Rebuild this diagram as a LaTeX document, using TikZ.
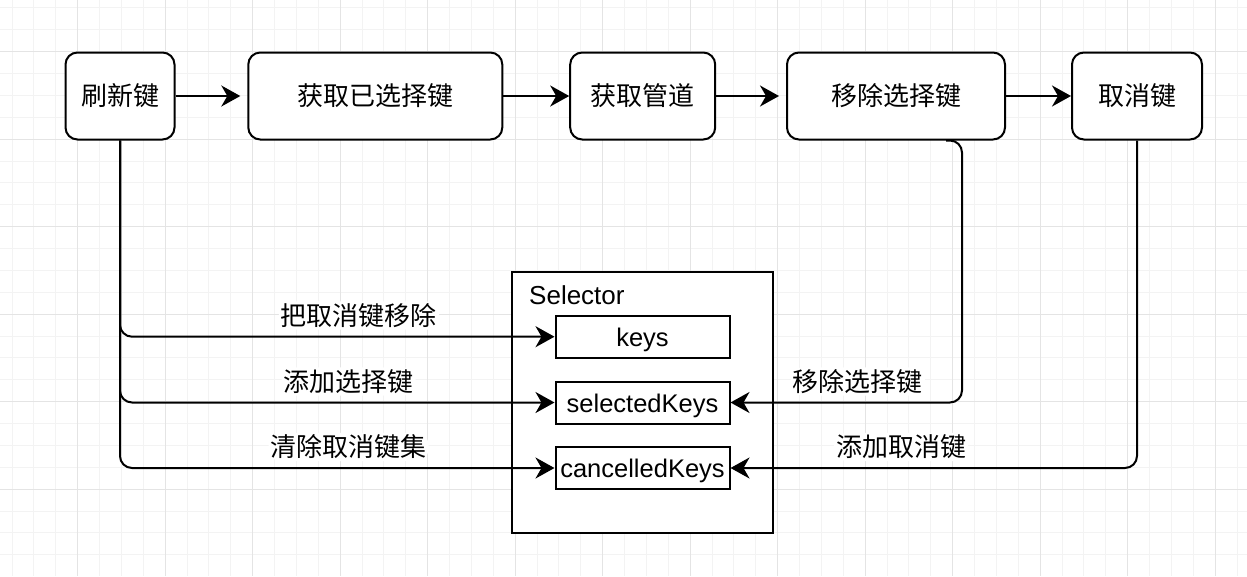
\documentclass[tikz,border=0pt]{standalone}
\usepackage{fontspec}
\setmainfont{Liberation Sans}
\newfontfamily\cjk{Noto Sans CJK SC}
\usepackage{tikz}
\usetikzlibrary{arrows.meta}
\definecolor{gridminor}{HTML}{F3F3F3}
\definecolor{gridmajor}{HTML}{E4E4E4}

\begin{document}
\begin{tikzpicture}[x=1pt,y=-1pt]
\tikzset{>={Stealth[length=19pt,width=21pt,inset=6pt]}}
\tikzstyle{stage} =[draw, line width=2pt, rounded corners=12pt, fill=white, minimum height=87pt, inner sep=0pt, font=\cjk\fontsize{26}{30}\selectfont]
\tikzstyle{field} =[draw, line width=2pt, fill=white, minimum width=174pt, minimum height=42pt, inner sep=0pt, text height=19pt, text depth=0pt, font=\fontsize{25.5}{29}\selectfont]
\tikzstyle{lbl} =[fill=white, inner sep=2pt, font=\cjk\fontsize{26}{30}\selectfont]
\tikzstyle{flow} =[->, line width=2pt]
\tikzstyle{link} =[->, line width=2pt, rounded corners=12pt]

\useasboundingbox (0,0) rectangle (1247,576);
% grid
\fill[white] (0,0) rectangle (1247,576);
\foreach \i in {0,...,56} \draw[gridminor, line width=1pt] ({12.07+21.875*\i},0) -- ({12.07+21.875*\i},576);
\foreach \j in {0,...,25} \draw[gridminor, line width=1pt] (0,{7.95+21.875*\j}) -- (1247,{7.95+21.875*\j});
\foreach \i in {0,...,13} \draw[gridmajor, line width=1pt] ({77.7+87.5*\i},0) -- ({77.7+87.5*\i},576);
\foreach \j in {0,...,5} \draw[gridmajor, line width=1pt] (0,{51.7+87.5*\j}) -- (1247,{51.7+87.5*\j});

% top row
\node[stage, minimum width=109pt](refresh) at (120,96){刷新键};
\node[stage, minimum width=254pt](fetch) at (375.3,96){获取已选择键};
\node[stage, minimum width=145pt](chan) at (642.7,96){获取管道};
\node[stage, minimum width=218pt](remove) at (896,96){移除选择键};
\node[stage, minimum width=130pt](cancel) at (1137,96){取消键};

\draw [flow, shorten >=7pt] (refresh) to (fetch);
\draw [flow] (fetch) to (chan);
\draw [flow, shorten >=7pt] (chan) to (remove);
\draw [flow] (remove) to (cancel);

% selector
\node[draw, line width=2pt, fill=white, minimum width=261pt, minimum height=261pt](sel) at (642.5,402.5){};
\node[anchor=west, inner sep=0pt, font=\fontsize{26}{30}\selectfont](seltitle) at (529,295){Selector};
\node[field](keys) at (642.5,336.7){keys};
\node[field](sk) at (642.5,402.5){selectedKeys};
\node[field](ck) at (642.5,468){cancelledKeys};

\coordinate (turn) at (962,402.5);
\draw [link] (refresh.south) |- node[lbl, pos=0.775, above=6pt]{把取消键移除} (keys.west);
\draw [link] (refresh.south) |- node[lbl, pos=0.763, above=6pt]{添加选择键} (sk.west);
\draw [link] (refresh.south) |- node[lbl, pos=0.763, above=6pt]{清除取消键集} (ck.west);
\draw [link] ([xshift=50pt]remove.south) -| (turn) -- node[lbl, pos=0.45, above=6pt]{移除选择键} (sk.east);
\draw [link] (cancel.south) |- node[lbl, pos=0.79, above=6pt]{添加取消键} (ck.east);
\end{tikzpicture}
\end{document}
